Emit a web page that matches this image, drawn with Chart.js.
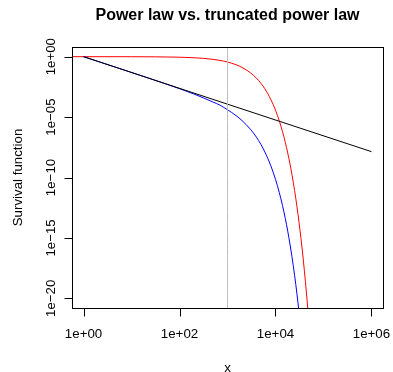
<!DOCTYPE html>
<html>
<head>
<meta charset="utf-8">
<title>Power law vs. truncated power law</title>
<script src="https://cdn.jsdelivr.net/npm/chart.js@4.4.1/dist/chart.umd.min.js"></script>
<style>
  html, body { margin: 0; padding: 0; background: #fff; }
  canvas { display: block; }
</style>
</head>
<body>
<canvas id="survivalChart" width="393" height="372"></canvas>
<script>
// plain power law (straight in log-log)
const powerX = [1, 1000, 1000000];
const powerY = [1, 1.17e-4, 1.38e-8];

// truncated power law
const truncX = [1, 2, 5, 10, 20, 50, 100, 200, 500, 700, 1000, 1500, 2000, 3000, 4000, 5000, 6000, 8000,
                10000, 12000, 14000, 16000, 18000, 20000, 22000, 25000, 28000, 31000];
const truncY = [1, 0.405, 0.123, 0.0495, 0.0199, 5.84e-3, 2.24e-3, 8.1e-4, 1.75e-4, 9.6e-5, 4.0e-5, 1.35e-5,
                5.2e-6, 9.9e-7, 2.2e-7, 5.2e-8, 1.3e-8, 9.2e-10, 7.1e-11, 5.7e-12, 4.8e-13, 4.1e-14,
                3.6e-15, 3.2e-16, 2.9e-17, 8.1e-19, 2.3e-20, 6.6e-22];

// exponential tail
const expX = [0.5, 1, 10, 100, 200, 300, 500, 700, 1000, 1500, 2000, 3000, 4000, 5000, 6000, 8000, 10000,
              12000, 14000, 16000, 18000, 20000, 22000, 25000, 28000, 31000, 34000, 38000, 42000, 46000, 50000];
const expY = [1, 0.999, 0.990, 0.903, 0.815, 0.736, 0.600, 0.490, 0.361, 0.2165, 0.130, 0.0469, 0.0169,
              6.1e-3, 2.2e-3, 2.86e-4, 3.7e-5, 4.8e-6, 6.3e-7, 8.2e-8, 1.06e-8, 1.38e-9, 1.79e-10,
              8.4e-12, 3.9e-13, 1.85e-14, 8.7e-16, 1.47e-17, 2.5e-19, 4.2e-21, 7.1e-23];

const cutoffX = 1000;

const xTicks = [1, 100, 10000, 1000000];
const xTickLabels = ["1e+00", "1e+02", "1e+04", "1e+06"];
const yTicks = [1, 1e-5, 1e-10, 1e-15, 1e-20];
const yTickLabels = ["1e+00", "1e\u221205", "1e\u221210", "1e\u221215", "1e\u221220"];

const FONT = '"Liberation Sans", Arial, Helvetica, sans-serif';

function toPoints(xs, ys) {
    return xs.map((x, i) => ({ x: x, y: ys[i] }));
}

function lineSet(data, color) {
    return {
        data: data,
        borderColor: color,
        borderWidth: 1,
        pointRadius: 0,
        showLine: true,
        fill: false,
        cubicInterpolationMode: "monotone"
    };
}

// box, ticks and text in base-graphics style
const baseAxes = {
    id: "baseAxes",
    afterDraw(chart) {
        const ctx = chart.ctx;
        const area = chart.chartArea;
        const xs = chart.scales.x;
        const ys = chart.scales.y;
        ctx.save();
        ctx.strokeStyle = "#000";
        ctx.lineWidth = 1;
        ctx.strokeRect(Math.round(area.left) + 0.5, Math.round(area.top) + 0.5,
            Math.round(area.right - area.left), Math.round(area.bottom - area.top));

        ctx.fillStyle = "#000";
        ctx.font = "13.3px " + FONT;

        // x axis
        const bottom = Math.round(area.bottom) + 0.5;
        ctx.beginPath();
        ctx.moveTo(Math.round(xs.getPixelForValue(xTicks[0])) + 0.5, bottom);
        ctx.lineTo(Math.round(xs.getPixelForValue(xTicks[xTicks.length - 1])) + 0.5, bottom);
        xTicks.forEach(v => {
            const px = Math.round(xs.getPixelForValue(v)) + 0.5;
            ctx.moveTo(px, bottom);
            ctx.lineTo(px, bottom + 8);
        });
        ctx.stroke();
        ctx.textAlign = "center";
        ctx.textBaseline = "alphabetic";
        xTicks.forEach((v, i) => {
            ctx.fillText(xTickLabels[i], xs.getPixelForValue(v), 338);
        });

        // y axis
        const left = Math.round(area.left) + 0.5;
        ctx.beginPath();
        ctx.moveTo(left, Math.round(ys.getPixelForValue(yTicks[0])) + 0.5);
        ctx.lineTo(left, Math.round(ys.getPixelForValue(yTicks[yTicks.length - 1])) + 0.5);
        yTicks.forEach(v => {
            const py = Math.round(ys.getPixelForValue(v)) + 0.5;
            ctx.moveTo(left, py);
            ctx.lineTo(left - 8, py);
        });
        ctx.stroke();
        yTicks.forEach((v, i) => {
            ctx.save();
            ctx.translate(54.5, ys.getPixelForValue(v));
            ctx.rotate(-Math.PI / 2);
            ctx.fillText(yTickLabels[i], 0, 0);
            ctx.restore();
        });

        // titles
        const midX = (area.left + area.right) / 2;
        const midY = (area.top + area.bottom) / 2;
        ctx.fillText("x", midX, 371.5);
        ctx.save();
        ctx.translate(21.5, midY);
        ctx.rotate(-Math.PI / 2);
        ctx.fillText("Survival function", 0, 0);
        ctx.restore();

        ctx.font = "bold 16px " + FONT;
        ctx.fillText("Power law vs. truncated power law", midX, 19.5);
        ctx.restore();
    }
};

new Chart(document.getElementById("survivalChart").getContext("2d"), {
    type: "scatter",
    data: {
        datasets: [
            lineSet([{ x: cutoffX, y: 1e-30 }, { x: cutoffX, y: 1e10 }], "#BEBEBE"),
            lineSet(toPoints(powerX, powerY), "#000000"),
            lineSet(toPoints(truncX, truncY), "#0000FF"),
            lineSet(toPoints(expX, expY), "#FF0000")
        ]
    },
    options: {
        responsive: false,
        animation: false,
        events: [],
        layout: { padding: { left: 72, right: 10, top: 47, bottom: 64 } },
        plugins: { legend: { display: false }, tooltip: { enabled: false } },
        scales: {
            x: { type: "logarithmic", min: Math.pow(10, -0.24), max: Math.pow(10, 6.24), display: false },
            y: { type: "logarithmic", min: Math.pow(10, -20.8), max: Math.pow(10, 0.8), display: false }
        }
    },
    plugins: [baseAxes]
});
</script>
</body>
</html>
